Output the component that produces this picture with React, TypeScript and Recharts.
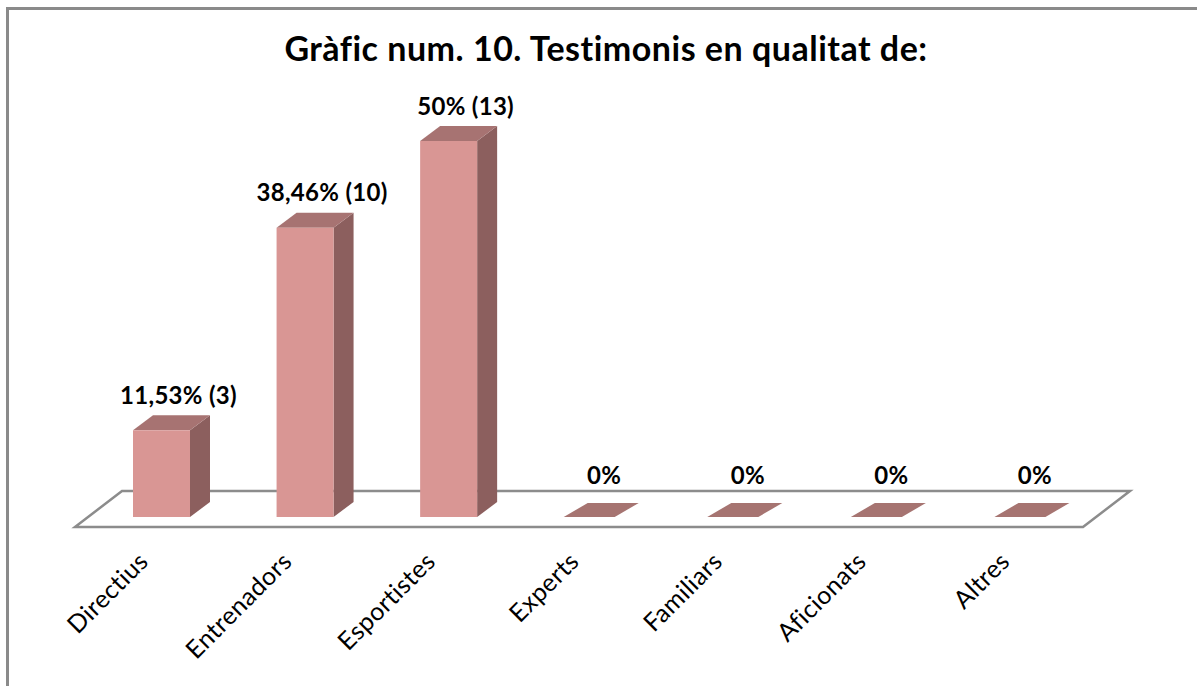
import React from 'react';
import { BarChart, Bar, XAxis, YAxis, LabelList, ReferenceArea } from 'recharts';

const categories = ['Directius', 'Entrenadors', 'Esportistes', 'Experts', 'Familiars', 'Aficionats', 'Altres'];
const percents = [11.53, 38.46, 50, 0, 0, 0, 0];
const valueLabels = ['11,53% (3)', '38,46% (10)', '50% (13)', '0%', '0%', '0%', '0%'];

const data = categories.map((name, i) => ({ name, value: percents[i], label: valueLabels[i] }));

const FONT = 'Lato, "Open Sans", sans-serif';
const DX = 20; // depth offset of the 3d bars
const DY = -15;

const Bar3D = (props: any) => {
  const { x, y, width, height } = props;
  if (!height || height < 0.5) {
    const b = y + (height || 0);
    return (
      <polygon
        points={`${x},${b} ${x + width - 6},${b} ${x + width - 6 + DX + 4},${b + DY + 1} ${x + DX + 4},${b + DY + 1}`}
        fill="#A67471"
      />
    );
  }
  return (
    <g>
      <polygon
        points={`${x + width},${y} ${x + width + DX},${y + DY} ${x + width + DX},${y + height + DY} ${x + width},${y + height}`}
        fill="#8C5F5E"
      />
      <polygon
        points={`${x},${y} ${x + width},${y} ${x + width + DX},${y + DY} ${x + DX},${y + DY}`}
        fill="#A77372"
      />
      <rect x={x} y={y} width={width} height={height} fill="#D99694" />
    </g>
  );
};

// floor of the 3d plot, drawn under the bars
const Floor = (props: any) => {
  const { x, y, width, height } = props;
  const fy = y + height + 10;
  const fl = x - 15;
  const fr = x + width - 12;
  return (
    <polygon
      points={`${fl},${fy} ${fr},${fy} ${fr + 47},${fy - 36} ${fl + 47},${fy - 36}`}
      fill="#fff"
      stroke="#8C8C8C"
      strokeWidth={2.5}
    />
  );
};

const ValueLabel = (props: any) => {
  const { x, y, width, value } = props;
  const zero = value === '0%';
  return (
    <text
      x={x + width / 2 + (zero ? 12 : 17)}
      y={y - (zero ? 43 : 36)}
      textAnchor="middle"
      dominantBaseline="central"
      fontFamily={FONT}
      fontWeight="bold"
      fontSize={24}
      letterSpacing={0.3}
      fill="#000"
    >
      {value}
    </text>
  );
};

const CategoryTick = (props: any) => {
  const { x, y, payload } = props;
  const ax = x - 12;
  const ay = y + 38;
  return (
    <text
      x={ax}
      y={ay}
      transform={`rotate(-45 ${ax} ${ay})`}
      textAnchor="end"
      fontFamily={FONT}
      fontSize={25}
      letterSpacing={0.4}
      fill="#000"
    >
      {payload.value}
    </text>
  );
};

export default function App() {
  return (
    <div style={{ position: 'absolute', left: 0, top: 0, width: 1197, height: 686, background: '#fff', overflow: 'hidden' }}>
      <div
        style={{
          position: 'absolute',
          left: 6,
          top: 7,
          width: 1220,
          height: 720,
          borderLeft: '3px solid #8A8A8A',
          borderTop: '3px solid #8A8A8A',
        }}
      />
      <div
        style={{
          position: 'absolute',
          left: 0,
          width: 1212,
          top: 27,
          textAlign: 'center',
          fontFamily: FONT,
          fontWeight: 'bold',
          fontSize: 34,
          letterSpacing: 0.5,
          color: '#000',
        }}
      >
        Gràfic num. 10. Testimonis en qualitat de:
      </div>
      <div style={{ position: 'absolute', left: 0, top: 0 }}>
        <BarChart
          width={1197}
          height={686}
          data={data}
          margin={{ top: 141, right: 102, bottom: 139, left: 90 }}
        >
          <XAxis dataKey="name" axisLine={false} tickLine={false} tick={<CategoryTick />} interval={0} height={30} />
          <YAxis hide domain={[0, 50]} />
          <ReferenceArea x1="Directius" x2="Altres" y1={0} y2={50} shape={<Floor />} ifOverflow="visible" />
          <Bar dataKey="value" barSize={57} shape={<Bar3D />} isAnimationActive={false}>
            <LabelList dataKey="label" content={<ValueLabel />} />
          </Bar>
        </BarChart>
      </div>
    </div>
  );
}
